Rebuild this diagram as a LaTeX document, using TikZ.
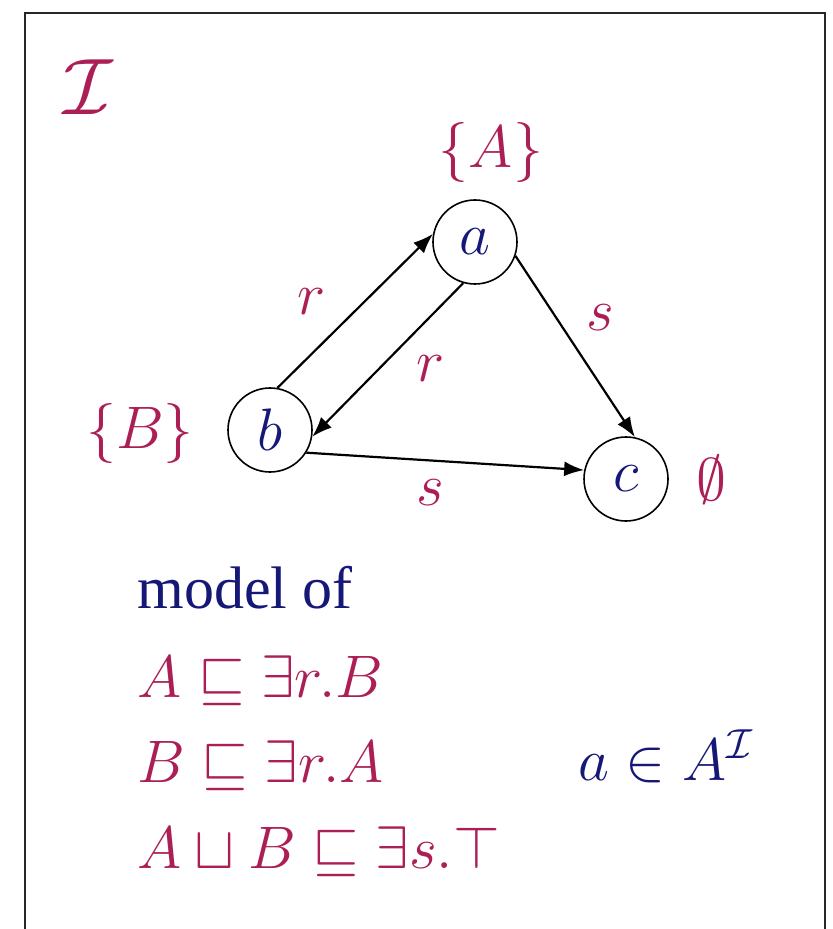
\RequirePackage{fix-cm}
\documentclass[tikz,border=0pt]{standalone}
\usepackage{fontspec}
\newfontfamily\timesfont{Liberation Serif}
\usetikzlibrary{arrows.meta}
\definecolor{dlred}{RGB}{172,30,86}
\definecolor{dlblue}{RGB}{22,24,120}
\tikzset{
  big/.style={font=\fontsize{30}{36}\selectfont},
  ind/.style={circle,draw,line width=0.8pt,minimum size=42pt,inner sep=0pt,text=dlblue,big},
  lbl/.style={text=dlred,inner sep=0pt,big},
  blu/.style={text=dlblue,inner sep=0pt,big},
  edge/.style={line width=1.1pt,-{Latex[length=10pt,width=7.5pt]}},
  frame/.style={line width=1.3pt,draw=black!85},
}
\begin{document}
\begin{tikzpicture}[x=0.5pt,y=-0.5pt]
\useasboundingbox[fill=white] (0,0) rectangle (832,929);
\draw[frame] (25,929) -- (25,13) -- (825,13) -- (825,929);
% interpretation symbol
\node[lbl,font=\fontsize{40}{48}\selectfont] (interp) at (88,87) {$\mathcal{I}$};
% individuals
\node[ind] (a) at (475,242) {$a$};
\node[ind] (b) at (270,430) {$b$};
\node[ind] (c) at (626,479) {$c$};
% concept labels
\node[lbl,anchor=base] (la) at (491,168) {$\{A\}$};
\node[lbl,anchor=base] (lb) at (140,448) {$\{B\}$};
\node[lbl] (lc) at (711,480) {$\emptyset$};
% edges
\draw[edge] (b.80) -- (a.169);
\draw[edge] (a.254) -- (b.-9);
\draw[edge] (a.-19) -- (c.78);
\draw[edge] (b.-32) -- (c.168);
% edge labels
\node[lbl] (r1) at (312,302) {$r$};
\node[lbl] (r2) at (431,369) {$r$};
\node[lbl] (s1) at (600,318) {$s$};
\node[lbl] (s2) at (430,493) {$s$};
% text
\node[blu,anchor=base west,font=\fontsize{30}{36}\timesfont] (mod) at (137,608) {model of};
\node[lbl,anchor=base west] (ax1) at (137,697) {$A \sqsubseteq \exists r.B$};
\node[lbl,anchor=base west] (ax2) at (137,782) {$B \sqsubseteq \exists r.A$};
\node[lbl,anchor=base west] (ax3) at (137,868) {$A \sqcup B \sqsubseteq \exists s.\top$};
\node[blu,anchor=base west] (mem) at (578,780) {$a \in A^{\mathcal{I}}$};
\end{tikzpicture}
\end{document}
